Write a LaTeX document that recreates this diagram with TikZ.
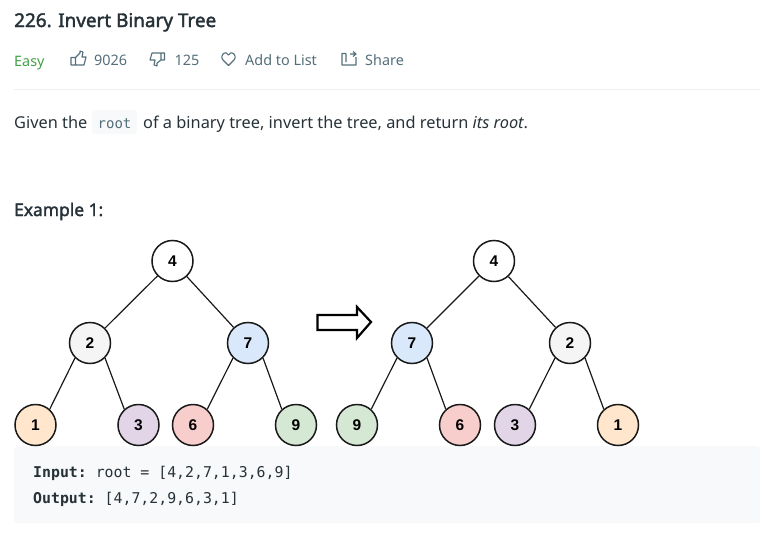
\documentclass[tikz,border=0pt]{standalone}
\usepackage{fontspec}
\setmainfont{Noto Sans}
\setmonofont{DejaVu Sans Mono}
\newfontfamily\labelfont{Liberation Sans}
\newfontfamily\headfont[FakeBold=2]{Noto Sans}
\definecolor{inkdark}{HTML}{263238}
\definecolor{inkgrey}{HTML}{546E7A}
\definecolor{easygreen}{HTML}{43A047}
\definecolor{codebg}{HTML}{F7F9FA}
\definecolor{rulegrey}{HTML}{ECEFF1}
\definecolor{peach}{HTML}{FFE6CC}
\definecolor{lilac}{HTML}{E1D5E7}
\definecolor{rose}{HTML}{F8CECC}
\definecolor{leaf}{HTML}{D5E8D4}
\definecolor{sky}{HTML}{DAE8FC}
\definecolor{pale}{HTML}{F5F5F5}
\begin{document}
\begin{tikzpicture}[
		x=1pt, y=-1pt,
		txt/.style = {anchor=base west, inner sep=0pt, text=inkdark},
		meta/.style = {anchor=base west, inner sep=0pt, text=inkgrey, font=\fontsize{14.4}{16}\selectfont},
		icon/.style = {draw=inkgrey, line width=1.1pt, line join=round},
		tree/.style = {circle, draw=black!90, line width=1.5pt, minimum size=41pt, inner sep=0pt, font=\labelfont\bfseries\fontsize{15.5}{16}\selectfont},
		e/.style = {draw=black!90, line width=1.2pt}
		]
		\useasboundingbox (0, 0) rectangle (772, 541);
		
		%Header
		\node[txt, font=\headfont\fontsize{18.9}{20}\selectfont] (title) at (14, 27) {226. Invert Binary Tree};
		\node[meta, text=easygreen] (level) at (14, 66) {Easy};
		\node[meta] (likes) at (94, 65) {9026};
		\node[meta] (dislikes) at (174.5, 65) {125};
		\node[meta] (addlist) at (245, 65) {Add to List};
		\node[meta] (share) at (365, 65) {Share};
		\draw[icon] (71, 57.5) -- (75.5, 57.5) -- (75.5, 65) -- (71, 65) -- cycle
			(75.5, 57.5) -- (80, 53) -- (80, 51) -- (83, 52) -- (82, 57) -- (86, 57) -- (84, 65) -- (75.5, 65);
		\draw[icon] (161, 53) -- (164.5, 53) -- (164.5, 60) -- (161, 60) -- cycle
			(161, 60) -- (157, 63) -- (157, 66) -- (154, 65) -- (155, 60) -- (150, 60) -- (152, 53) -- (161, 53);
		\draw[icon] (228.5, 65.5) -- (223, 60) .. controls (219, 55) and (226, 49.5) .. (228.5, 55)
			.. controls (231, 49.5) and (238, 55) .. (234, 60) -- cycle;
		\draw[icon] (346, 53.5) -- (342, 53.5) -- (342, 65) -- (356, 65) -- (356, 57)
			(346, 53.5) -- (346, 62)
			(350, 54) -- (356, 54) (353, 51.5) -- (356, 54) -- (353, 56.5);
		\draw[rulegrey] (14, 89.5) -- (760, 89.5);
		
		%Question
		\node[txt, font=\fontsize{16.35}{20}\selectfont] (given) at (14, 128) {Given the};
		\node[rounded corners=3pt, fill=codebg, minimum width=45pt, minimum height=24pt, inner sep=0pt] (rootbox) at (114.5, 122) {};
		\node[txt, font=\ttfamily\fontsize{14}{16}\selectfont, text=inkgrey] (rootword) at (97.5, 128) {root};
		\node[txt, font=\fontsize{16.35}{20}\selectfont] (rest) at (143, 128) {of a binary tree, invert the tree, and return \textit{its root}.};
		\node[txt, font=\headfont\fontsize{17.4}{20}\selectfont] (example) at (14, 216) {Example 1:};
		
		%Code block
		\node[rounded corners=3pt, fill=codebg, minimum width=746pt, minimum height=77pt, inner sep=0pt, anchor=north west] (codebox) at (14, 446) {};
		\node[txt, font=\ttfamily\fontsize{14.85}{16}\selectfont] (input) at (33, 477) {\textbf{Input:} root = [4,2,7,1,3,6,9]};
		\node[txt, font=\ttfamily\fontsize{14.85}{16}\selectfont] (output) at (33, 503) {\textbf{Output:} [4,7,2,9,6,3,1]};
		
		%Nodes
		\node[tree, fill=white]	(a4)	at (172.5, 261)	{4};
		\node[tree, fill=pale]	(a2)	at (90, 343)	{2};
		\node[tree, fill=sky]	(a7)	at (248, 343)	{7};
		\node[tree, fill=peach]	(a1)	at (35.5, 425)	{1};
		\node[tree, fill=lilac]	(a3)	at (138.5, 425)	{3};
		\node[tree, fill=rose]	(a6)	at (193, 425)	{6};
		\node[tree, fill=leaf]	(a9)	at (296, 425)	{9};
		\node[tree, fill=white]	(b4)	at (494, 261)	{4};
		\node[tree, fill=sky]	(b7)	at (412, 343)	{7};
		\node[tree, fill=pale]	(b2)	at (570, 343)	{2};
		\node[tree, fill=leaf]	(b9)	at (357, 425)	{9};
		\node[tree, fill=rose]	(b6)	at (460, 425)	{6};
		\node[tree, fill=lilac]	(b3)	at (515, 425)	{3};
		\node[tree, fill=peach]	(b1)	at (618, 425)	{1};
		
		%Lines
		\draw[e] (a4) -- (a2);
		\draw[e] (a4) -- (a7);
		\draw[e] (a2.225) -- (a1.48);
		\draw[e] (a2.315) -- (a3.132);
		\draw[e] (a7.225) -- (a6.48);
		\draw[e] (a7.315) -- (a9.132);
		\draw[e] (b4) -- (b7);
		\draw[e] (b4) -- (b2);
		\draw[e] (b7.225) -- (b9.48);
		\draw[e] (b7.315) -- (b6.132);
		\draw[e] (b2.225) -- (b3.48);
		\draw[e] (b2.315) -- (b1.132);
		
		%Arrow
		\draw[draw=black, line width=2.2pt, fill=white, miter limit=10] (317.5, 315) -- (357, 315) -- (357, 307) -- (371, 322) -- (357, 338) -- (357, 330) -- (317.5, 330) -- cycle;
		
	\end{tikzpicture}
\end{document}
